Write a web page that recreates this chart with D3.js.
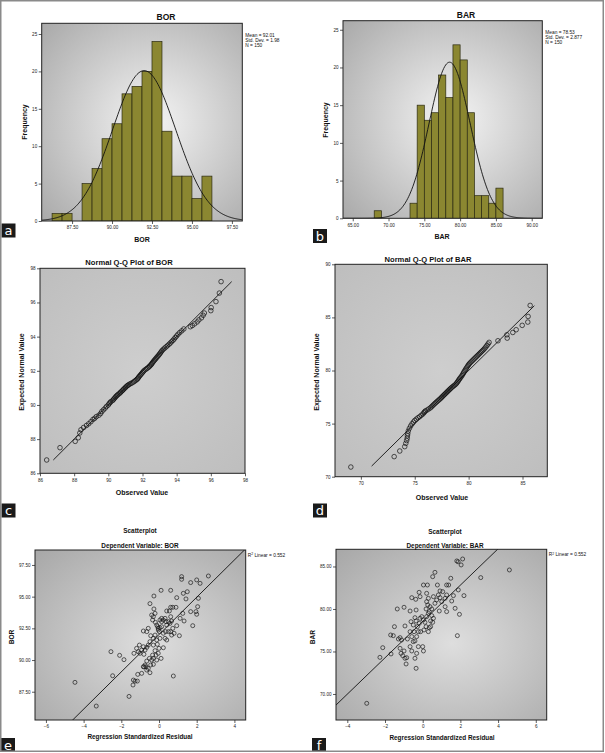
<!DOCTYPE html>
<html><head><meta charset="utf-8">
<script src="https://cdn.jsdelivr.net/npm/d3@7"></script>
<style>body{margin:0;background:#fff} svg{display:block}</style>
</head><body>
<svg id="fig" width="605" height="753"></svg>
<script>
/* Six SPSS-style panels: histograms, normal Q-Q plots, regression scatterplots. */

// --- histogram data (bin lower edges + counts) ---
const borBinLo = [86.25, 86.875, 88.125, 88.75, 89.375, 90.0, 90.625, 91.25, 91.875, 92.5, 93.125, 93.75, 94.375, 95.0, 95.625];
const borCounts = [1, 1, 5, 7, 11, 13, 17, 18, 20, 24, 12, 6, 6, 3, 6];
const borBinW = 0.625;
const barBinLo = [68, 73, 74, 75, 76, 77, 78, 79, 80, 81, 82, 83, 84, 85];
const barCounts = [1, 2, 15, 13, 14, 19, 16, 23, 21, 14, 3, 3, 2, 4];
const barBinW = 1;
const borStats = {mean: 92.01, sd: 1.98, n: 150, peak: 20.1};
const barStats = {mean: 78.53, sd: 2.877, n: 150, peak: 20.7};
const borStatText = ['Mean = 92.01', 'Std. Dev. = 1.98', 'N = 150'];
const barStatText = ['Mean = 78.53', 'Std. Dev. = 2.877', 'N = 150'];

// --- tick values ---
const ticksHistBorX = [87.5, 90, 92.5, 95, 97.5];
const ticksHistBarX = [65, 70, 75, 80, 85, 90];
const ticksFreq = [0, 5, 10, 15, 20, 25];
const ticksQqBor = [86, 88, 90, 92, 94, 96, 98];
const ticksQqBarX = [70, 75, 80, 85];
const ticksQqBarY = [70, 75, 80, 85, 90];
const ticksResidE = [-6, -4, -2, 0, 2, 4];
const ticksResidF = [-4, -2, 0, 2, 4, 6];
const ticksScatBor = [87.5, 90, 92.5, 95, 97.5];
const ticksScatBar = [70, 75, 80, 85];

// --- Q-Q data: observed, expected normal ---
const qqBorObs = [86.39, 87.17, 88.06, 88.24, 88.33, 88.40, 88.55, 88.72, 88.85, 88.98, 89.10, 89.20, 89.30, 89.45, 89.55, 89.62, 89.72, 89.82, 89.90, 90.00,
  90.05, 90.10, 90.15, 90.25, 90.30, 90.35, 90.40, 90.45, 90.50, 90.55, 90.62, 90.68, 90.72, 90.78, 90.83, 90.88, 90.92, 90.98, 91.02, 91.08,
  91.13, 91.18, 91.25, 91.32, 91.40, 91.48, 91.55, 91.62, 91.68, 91.72, 91.76, 91.80, 91.85, 91.90, 91.95, 92.00, 92.05, 92.10, 92.18, 92.25,
  92.32, 92.38, 92.42, 92.48, 92.52, 92.56, 92.60, 92.65, 92.70, 92.75, 92.80, 92.85, 92.90, 92.95, 93.00, 93.05, 93.10, 93.15, 93.22, 93.30,
  93.38, 93.46, 93.55, 93.62, 93.70, 93.78, 93.85, 93.92, 94.00, 94.08, 94.18, 94.30, 94.42, 94.80, 94.92, 95.05, 95.20, 95.30, 95.45, 95.55,
  95.62, 96.00, 96.02, 96.30, 96.50, 96.60];
const qqBorExp = [86.78, 87.50, 87.87, 88.08, 88.36, 88.55, 88.68, 88.80, 88.90, 89.02, 89.15, 89.22, 89.32, 89.40, 89.50, 89.62, 89.72, 89.82, 89.92, 90.00,
  90.08, 90.14, 90.20, 90.26, 90.32, 90.38, 90.44, 90.50, 90.55, 90.60, 90.65, 90.70, 90.75, 90.80, 90.85, 90.90, 90.95, 91.00, 91.05, 91.10,
  91.14, 91.18, 91.22, 91.26, 91.30, 91.35, 91.40, 91.45, 91.50, 91.55, 91.60, 91.66, 91.72, 91.78, 91.84, 91.90, 91.96, 92.02, 92.08, 92.13,
  92.18, 92.23, 92.28, 92.33, 92.38, 92.44, 92.50, 92.56, 92.62, 92.68, 92.74, 92.80, 92.86, 92.92, 92.98, 93.05, 93.12, 93.19, 93.26, 93.33,
  93.40, 93.47, 93.55, 93.62, 93.70, 93.78, 93.86, 93.95, 94.04, 94.14, 94.24, 94.34, 94.45, 94.58, 94.65, 94.75, 94.86, 94.98, 95.10, 95.25,
  95.38, 95.52, 95.70, 96.05, 96.55, 97.22];
const qqBorLine = [86.78, 97.22];

const qqBarObs = [69.07, 73.09, 73.61, 74.07, 74.17, 74.25, 74.30, 74.32, 74.35, 74.40, 74.50, 74.62, 74.75, 74.88, 75.00, 75.15, 75.30, 75.45, 75.60, 75.75,
  75.85, 75.92, 76.00, 76.15, 76.30, 76.45, 76.55, 76.65, 76.75, 76.85, 76.95, 77.05, 77.15, 77.25, 77.35, 77.45, 77.52, 77.60, 77.68, 77.76,
  77.84, 77.92, 78.00, 78.08, 78.16, 78.24, 78.32, 78.40, 78.50, 78.60, 78.70, 78.80, 78.88, 78.95, 79.02, 79.08, 79.15, 79.22, 79.30, 79.38,
  79.45, 79.52, 79.58, 79.65, 79.72, 79.80, 79.88, 79.95, 80.02, 80.10, 80.20, 80.30, 80.40, 80.50, 80.60, 80.70, 80.80, 80.90, 81.00, 81.10,
  81.20, 81.30, 81.40, 81.50, 81.60, 81.70, 81.80, 81.90, 82.72, 83.55, 83.58, 84.10, 84.41, 84.97, 85.49, 85.52, 85.71];
const qqBarExp = [70.91, 71.89, 72.42, 72.83, 73.14, 73.40, 73.62, 73.85, 74.05, 74.30, 74.55, 74.78, 74.98, 75.15, 75.30, 75.42, 75.55, 75.65, 75.78, 75.90,
  76.02, 76.12, 76.20, 76.28, 76.38, 76.48, 76.58, 76.68, 76.78, 76.88, 76.97, 77.06, 77.15, 77.24, 77.33, 77.42, 77.50, 77.58, 77.66, 77.74,
  77.82, 77.90, 77.98, 78.06, 78.14, 78.22, 78.30, 78.38, 78.46, 78.54, 78.62, 78.70, 78.80, 78.90, 79.00, 79.10, 79.20, 79.30, 79.40, 79.52,
  79.64, 79.76, 79.88, 80.00, 80.12, 80.24, 80.36, 80.48, 80.58, 80.68, 80.78, 80.88, 80.98, 81.08, 81.18, 81.28, 81.38, 81.48, 81.58, 81.68,
  81.78, 81.88, 81.98, 82.10, 82.22, 82.36, 82.50, 82.65, 82.80, 83.36, 83.05, 83.58, 83.84, 84.25, 84.56, 85.09, 86.13];
const qqBarLine = [71.0, 86.1];

// --- scatter data: regression standardized residual vs dependent ---
const eResid = [1.20, 1.20, 1.68, 2.00, 2.18, 2.62, 0.62, 1.29, 1.50, 0.94, 1.43, 2.09, 2.05, 1.96, 1.68, 1.26, 1.33, 2.00, 1.79, 1.08,
  0.94, 1.12, 0.73, 0.90, 0.62, 0.41, 0.55, 0.62, 0.50, 0.37, 0.23, 0.32, 0.14, 0.05, 0.14, 0.41, 0.58, 0.67, 0.73, 0.62,
  0.80, 0.50, 0.35, 0.23, 0.32, 0.67, 0.41,
  -0.27, 0.11, -0.48, -0.27, -0.21, -0.30, -0.12, -0.07, -0.04, -0.04, 0.02, 0.05, 0.14, -0.19, -0.34, -0.39, -0.65, -0.83, -0.57, -0.44,
  -0.30, -0.21, -0.12, 0.05, -0.09, 0.00, -0.48, -0.57, -0.65, -0.83, -0.92, -1.04, -1.19, -1.10, -1.01, -0.74, -0.80, -0.30, -0.21, -0.34,
  -0.16, -0.04, 0.23, 0.11, -0.12, -0.30, -0.39, -0.51, -0.65, -0.74, -0.83, -0.69, -0.57, -0.44, -0.30, -0.65, -0.80, -0.92, -0.48, -1.13,
  -1.36, -1.27, -1.15, -1.38,
  -4.46, -3.33, -2.55, -2.09, -1.86, -2.46, -1.59, -1.33, 0.76];
const eBor = [96.58, 96.37, 96.11, 96.32, 96.05, 96.63, 95.50, 95.26, 95.39, 94.92, 94.82, 94.87, 94.21, 93.82, 93.82, 93.68, 93.08, 93.61, 92.71, 91.92,
  92.71, 93.29, 94.16, 94.16, 94.16, 93.87, 93.87, 93.42, 93.03, 93.03, 93.16, 93.29, 93.29, 93.16, 93.03, 92.76, 92.89, 93.08, 92.50, 92.24,
  92.11, 92.24, 92.24, 92.11, 91.71, 91.97, 91.58,
  95.05, 95.50, 94.45, 94.03, 93.68, 93.42, 92.76, 92.63, 92.50, 92.37, 92.24, 92.55, 92.63, 92.97, 93.16, 93.55, 92.24, 92.29, 92.50, 91.92,
  91.71, 91.97, 91.58, 91.71, 91.24, 90.92, 91.45, 91.18, 91.00, 91.05, 90.79, 91.18, 90.92, 90.66, 90.53, 90.79, 90.45, 91.18, 90.74, 90.39,
  90.39, 90.53, 90.97, 90.13, 90.00, 90.13, 90.00, 90.13, 89.92, 89.61, 89.47, 89.47, 89.34, 89.61, 89.66, 89.21, 89.47, 88.95, 89.00, 88.87,
  88.42, 88.34, 88.34, 88.03,
  88.24, 86.37, 90.66, 90.37, 90.03, 88.76, 87.13, 90.53, 88.74];
const fResid = [-2.97, -2.27, -2.12, -1.68, -1.70, -1.56, -1.50, -1.35, -1.29, -1.20, -1.12, -1.20, -1.15, -1.06, -0.99, -0.94, -0.88, -0.85, -0.81, -0.94,
  -0.99, -0.67, -0.58, -0.37, -0.19, -0.14, -0.35, -0.41, -0.62, -0.50, -0.67, -0.58, -0.50, -0.67, -0.58, -0.41, -0.35, -0.32, -0.23, 0.00,
  0.04, -0.41, -0.32, -0.46, -0.23, -0.28, -0.18, -0.35, -0.14, -0.05, 0.04, 0.12, 0.18, 0.07, -0.11, 0.30, 0.35, 0.42, 0.21, 0.30,
  0.18, 0.27, 0.39, 0.48, 0.35, 0.48, 0.57, 0.53, 0.42, 0.21, 0.30, 0.21, 0.25, 0.04, 0.57, 0.65, 0.74, 0.83, 0.92, 1.01,
  0.92, 1.06, 1.19, 1.27, 1.19, 1.27, 0.88, 0.78, 1.27, 1.38, 1.49, 0.65, 0.53, 1.81, 1.88, 2.12, 2.04, 1.72, 1.95, 2.19,
  1.84, 3.08, 4.60, 1.89, 1.63, 1.54];
const fBar = [68.90, 74.31, 75.45, 74.71, 76.94, 76.86, 77.92, 80.00, 76.47, 76.63, 76.35, 75.37, 74.78, 74.51, 75.06, 74.20, 73.53, 74.27, 76.47, 78.00,
  80.20, 79.76, 81.33, 81.14, 81.96, 81.45, 79.88, 78.98, 78.51, 78.12, 77.33, 76.75, 76.16, 75.57, 75.06, 74.20, 73.02, 74.78, 75.57, 75.57,
  75.06, 76.24, 76.75, 77.33, 77.33, 77.92, 78.31, 78.59, 78.90, 79.10, 78.71, 78.43, 77.92, 77.53, 77.33, 77.33, 77.80, 77.92, 79.10, 79.49,
  80.00, 80.47, 80.27, 80.00, 79.69, 79.22, 78.90, 78.43, 78.59, 80.86, 81.25, 81.84, 82.82, 82.82, 81.45, 80.67, 81.06, 81.65, 81.33, 80.86,
  82.12, 82.04, 81.25, 81.65, 80.27, 79.69, 79.76, 82.82, 82.82, 82.82, 83.61, 84.31, 83.80, 85.65, 85.55, 85.88, 85.18, 80.08, 79.37, 81.57,
  76.86, 83.69, 84.59, 82.24, 81.57, 80.94];
const r2Text = 'Linear = 0.552';
const r2 = 0.552;

const svg = d3.select('#fig');
const defs = svg.append('defs');
const font = '"Liberation Sans", Arial, sans-serif';
const f2 = d3.format('.2f');
let uid = 0;

function grad(c0, c1, cx, cy, r) {
  const id = 'g' + (uid++);
  const g = defs.append('radialGradient').attr('id', id)
    .attr('cx', cx).attr('cy', cy).attr('r', r);
  g.append('stop').attr('offset', '0%').attr('stop-color', c0);
  g.append('stop').attr('offset', '100%').attr('stop-color', c1);
  return `url(#${id})`;
}

// plot area with background, scales, axes; frame drawn later on top
function panel(box, xDom, yDom, fill, xTicks, yTicks, xFmt, yFmt) {
  const g = svg.append('g');
  const x = d3.scaleLinear().domain(xDom).range([box.x0, box.x1]);
  const y = d3.scaleLinear().domain(yDom).range([box.y1, box.y0]);
  g.append('rect').attr('x', box.x0).attr('y', box.y0)
    .attr('width', box.x1 - box.x0).attr('height', box.y1 - box.y0).attr('fill', fill);
  const cid = 'c' + (uid++);
  defs.append('clipPath').attr('id', cid).append('rect')
    .attr('x', box.x0).attr('y', box.y0).attr('width', box.x1 - box.x0).attr('height', box.y1 - box.y0);

  const ax = g.append('g').attr('transform', `translate(0,${box.y1})`)
    .call(d3.axisBottom(x).tickValues(xTicks).tickFormat(xFmt).tickSize(3).tickPadding(2));
  const ay = g.append('g').attr('transform', `translate(${box.x0},0)`)
    .call(d3.axisLeft(y).tickValues(yTicks).tickFormat(yFmt).tickSize(3).tickPadding(1.5));
  [ax, ay].forEach(a => {
    a.select('.domain').remove();
    a.selectAll('line').attr('stroke', '#333').attr('stroke-width', 0.8);
    a.selectAll('text').attr('font-family', font).attr('font-size', 4.6).attr('fill', '#222');
  });
  const plot = g.append('g').attr('clip-path', `url(#${cid})`);
  return {g, plot, x, y, box};
}

function border(p) {
  const b = p.box;
  p.g.append('rect').attr('x', b.x0).attr('y', b.y0).attr('width', b.x1 - b.x0).attr('height', b.y1 - b.y0)
    .attr('fill', 'none').attr('stroke', '#222').attr('stroke-width', 1);
}

function label(x, y, txt, size, bold, rotate, anchor) {
  const t = svg.append('text').attr('x', x).attr('y', y)
    .attr('font-family', font).attr('font-size', size)
    .attr('font-weight', bold ? 'bold' : 'normal')
    .attr('text-anchor', anchor || 'middle').attr('fill', '#111').text(txt);
  if (rotate) t.attr('transform', `rotate(-90,${x},${y})`);
  return t;
}

function letter(x, y, ch) {
  svg.append('rect').attr('x', x).attr('y', y).attr('width', 14).attr('height', 14).attr('fill', '#1a1a1a');
  svg.append('text').attr('x', x + 7).attr('y', y + 11.5).attr('text-anchor', 'middle')
    .attr('font-family', '"DejaVu Sans", sans-serif').attr('font-size', 13).attr('fill', '#fff').text(ch);
}

function histogram(box, xDom, yTop, binLo, counts, binW, stats, statText, xTicks) {
  const fill = grad('#f4f4f4', '#a8a8a8', '55%', '50%', '75%');
  const p = panel(box, xDom, [0, yTop], fill, xTicks, ticksFreq, f2, d3.format('d'));
  p.plot.selectAll('rect.bar').data(binLo).join('rect')
    .attr('x', d => p.x(d)).attr('width', d => p.x(d + binW) - p.x(d))
    .attr('y', (d, i) => p.y(counts[i])).attr('height', (d, i) => p.y(0) - p.y(counts[i]))
    .attr('fill', '#8b8731').attr('stroke', '#2b2a12').attr('stroke-width', 0.7);
  const xs = d3.range(xDom[0], xDom[1], (xDom[1] - xDom[0]) / 200).concat([xDom[1]]);
  const curve = d3.line()
    .x(d => p.x(d))
    .y(d => p.y(stats.peak * Math.exp(-0.5 * Math.pow((d - stats.mean) / stats.sd, 2))));
  p.plot.append('path').attr('d', curve(xs)).attr('fill', 'none').attr('stroke', '#111').attr('stroke-width', 0.9);
  border(p);
  statText.forEach((s, i) => label(box.x1 + 3, box.y0 + 13.5 + i * 5, s, 4.8, false, false, 'start'));
  return p;
}

function qq(box, xDom, yDom, obs, exp, line, xTicks, yTicks) {
  const fill = grad('#cecece', '#bebebe', '50%', '50%', '70%');
  const p = panel(box, xDom, yDom, fill, xTicks, yTicks, d3.format('d'), d3.format('d'));
  p.plot.append('line').attr('x1', p.x(line[0])).attr('y1', p.y(line[0]))
    .attr('x2', p.x(line[1])).attr('y2', p.y(line[1])).attr('stroke', '#111').attr('stroke-width', 0.9);
  p.plot.selectAll('circle').data(obs).join('circle')
    .attr('cx', d => p.x(d)).attr('cy', (d, i) => p.y(exp[i])).attr('r', 2.3)
    .attr('fill', 'none').attr('stroke', '#111').attr('stroke-width', 0.7);
  border(p);
  return p;
}

function scatter(box, xDom, yDom, xs, ys, mean, sd, xTicks, yTicks) {
  const fill = grad('#dedede', '#a9a9a9', '55%', '55%', '75%');
  const p = panel(box, xDom, yDom, fill, xTicks, yTicks, d3.format('d'), f2);
  const slope = sd * Math.sqrt(r2);
  p.plot.append('line').attr('x1', p.x(xDom[0])).attr('y1', p.y(mean + slope * xDom[0]))
    .attr('x2', p.x(xDom[1])).attr('y2', p.y(mean + slope * xDom[1])).attr('stroke', '#111').attr('stroke-width', 0.9);
  p.plot.selectAll('circle').data(xs).join('circle')
    .attr('cx', d => p.x(d)).attr('cy', (d, i) => p.y(ys[i])).attr('r', 2)
    .attr('fill', 'none').attr('stroke', '#111').attr('stroke-width', 0.65);
  border(p);
  const t = label(box.x1 + 2, box.y0 + 7, '', 4.8, false, false, 'start');
  t.append('tspan').text('R');
  t.append('tspan').attr('dy', -1.6).attr('font-size', 3.4).text('2');
  t.append('tspan').attr('dy', 1.6).text(' ' + r2Text);
  return p;
}

// a
histogram({x0: 41.7, x1: 242.3, y0: 23.3, y1: 221}, [85.6, 98.15], 26.43,
  borBinLo, borCounts, borBinW, borStats, borStatText, ticksHistBorX);
label(166, 20, 'BOR', 8.5, true);
label(142, 241.5, 'BOR', 7, true);
label(27, 122, 'Frequency', 7, true, true);
letter(1.5, 223.5, 'a');

// b
histogram({x0: 343, x1: 542.3, y0: 20.7, y1: 218.3}, [63.64, 91.48], 26.2,
  barBinLo, barCounts, barBinW, barStats, barStatText, ticksHistBarX);
label(466, 18, 'BAR', 8.5, true);
label(442, 238.5, 'BAR', 7, true);
label(328, 120, 'Frequency', 7, true, true);
letter(313, 229, 'b');

// c
qq({x0: 40, x1: 245, y0: 268.3, y1: 473.3}, [86, 98], [86, 98], qqBorObs, qqBorExp, qqBorLine, ticksQqBor, ticksQqBor);
label(129, 265, 'Normal Q-Q Plot of BOR', 7.6, true);
label(142, 494.5, 'Observed Value', 7, true);
label(24, 372, 'Expected Normal Value', 7, true, true);
letter(1.5, 503.5, 'c');

// d
qq({x0: 335, x1: 547.3, y0: 264.3, y1: 476.7}, [67.6, 87.3], [70, 90], qqBarObs, qqBarExp, qqBarLine, ticksQqBarX, ticksQqBarY);
label(428, 261.5, 'Normal Q-Q Plot of BAR', 7.6, true);
label(442, 499.5, 'Observed Value', 7, true);
label(319, 372, 'Expected Normal Value', 7, true, true);
letter(313, 503.5, 'd');

// e
scatter({x0: 35, x1: 245.7, y0: 550, y1: 720}, [-6.58, 4.6], [85.27, 98.68], eResid, eBor, borStats.mean, borStats.sd, ticksResidE, ticksScatBor);
label(140, 533, 'Scatterplot', 6.4, true);
label(140, 547.5, 'Dependent Variable: BOR', 6.4, true);
label(140, 738.5, 'Regression Standardized Residual', 6.4, true);
label(14, 637, 'BOR', 6.6, true, true);
letter(1, 738, 'e');

// f
scatter({x0: 336, x1: 546.7, y0: 549.3, y1: 720}, [-4.6, 6.58], [66.94, 87.02], fResid, fBar, barStats.mean, barStats.sd, ticksResidF, ticksScatBar);
label(445, 533.5, 'Scatterplot', 6.4, true);
label(445, 547.5, 'Dependent Variable: BAR', 6.4, true);
label(442, 739.5, 'Regression Standardized Residual', 6.4, true);
label(315, 637, 'BAR', 6.6, true, true);
letter(312, 738, 'f');

// outer border
svg.append('rect').attr('x', 0.75).attr('y', 0.75).attr('width', 602.5).attr('height', 750.5)
  .attr('fill', 'none').attr('stroke', '#8a8a8a').attr('stroke-width', 1.5);
</script>
</body></html>
